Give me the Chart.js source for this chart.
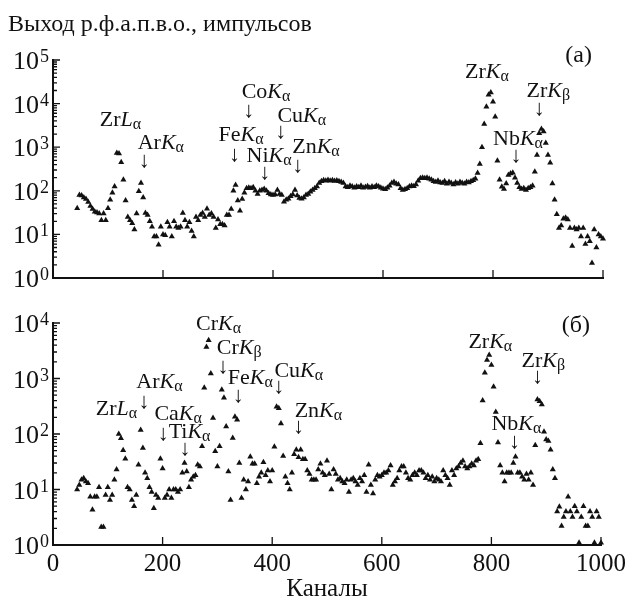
<!DOCTYPE html>
<html>
<head>
<meta charset="utf-8">
<script src="https://cdn.jsdelivr.net/npm/chart.js@4.4.1/dist/chart.umd.min.js"></script>
<style>
  html, body { margin: 0; padding: 0; background: #fff; }
  #wrap { position: relative; width: 630px; height: 602px; }
  canvas { position: absolute; left: 0; }
  #top { top: 0; }
  #bottom { top: 300px; }
</style>
</head>
<body>
<div id="wrap">
  <canvas id="top" width="630" height="300"></canvas>
  <canvas id="bottom" width="630" height="302"></canvas>
</div>
<script>
// channel numbers (x), shared by both spectra
const channels = [
   44,  48,  52,  56,  60,  64,  68,  72,  76,  80,
   84,  88,  92,  96, 100, 104, 108, 112, 116, 120,
  124, 128, 132, 136, 140, 144, 148, 152, 156, 160,
  164, 168, 172, 176, 180, 184, 188, 192, 196, 200,
  204, 208, 212, 216, 220, 224, 228, 232, 236, 240,
  244, 248, 252, 256, 260, 264, 268, 272, 276, 280,
  284, 288, 292, 296, 300, 304, 308, 312, 316, 320,
  324, 328, 332, 336, 340, 344, 348, 352, 356, 360,
  364, 368, 372, 376, 380, 384, 388, 392, 396, 400,
  404, 408, 412, 416, 420, 424, 428, 432, 436, 440,
  444, 448, 452, 456, 460, 464, 468, 472, 476, 480,
  484, 488, 492, 496, 500, 504, 508, 512, 516, 520,
  524, 528, 532, 536, 540, 544, 548, 552, 556, 560,
  564, 568, 572, 576, 580, 584, 588, 592, 596, 600,
  604, 608, 612, 616, 620, 624, 628, 632, 636, 640,
  644, 648, 652, 656, 660, 664, 668, 672, 676, 680,
  684, 688, 692, 696, 700, 704, 708, 712, 716, 720,
  724, 728, 732, 736, 740, 744, 748, 752, 756, 760,
  764, 768, 772, 776, 780, 784, 788, 792, 796, 800,
  804, 808, 812, 816, 820, 824, 828, 832, 836, 840,
  844, 848, 852, 856, 860, 864, 868, 872, 876, 880,
  884, 888, 892, 896, 900, 904, 908, 912, 916, 920,
  924, 928, 932, 936, 940, 944, 948, 952, 956, 960,
  964, 968, 972, 976, 980, 984, 988, 992, 996, 1000
];

// panel (а)
const countsA = [
  40, 80, 78, 70, 65, 55, 45, 38, 33, 32,
  30, 21, 30, 21, 40, 62, 90, 125, 740, 720,
  450, 180, 60, 25, 21, 18, 13, 30, 98, 150,
  70, 31, 28, 20, 15, 9, 9, 5.8, 15, 10,
  9.6, 19, 15, 9, 20, 15, 14, 15, 31, 21,
  15, 19, 12, 9, 25, 21, 28, 31, 25, 39,
  28, 30, 25, 14, 22, 17, 17, 16, 28, 28,
  38, 100, 135, 60, 35, 65, 90, 115, 118, 115,
  120, 100, 85, 100, 105, 110, 100, 88, 82, 80,
  82, 105, 85, 80, 56, 62, 66, 75, 82, 105,
  78, 68, 66, 70, 80, 85, 95, 105, 115, 125,
  150, 165, 175, 170, 178, 170, 175, 168, 172, 165,
  160, 150, 125, 120, 130, 125, 118, 125, 120, 130,
  118, 122, 128, 118, 125, 120, 130, 125, 118, 112,
  108, 118, 130, 150, 160, 145, 140, 115, 105, 108,
  115, 125, 130, 128, 140, 170, 195, 200, 195, 200,
  190, 180, 165, 160, 170, 155, 150, 165, 145, 160,
  150, 140, 155, 145, 160, 150, 145, 160, 155, 165,
  175, 190, 255, 410, 1000, 3400, 8500, 16000, 18000, 11000,
  5000, 490, 180, 124, 110, 148, 230, 250, 260, 200,
  150, 120, 110, 115, 105, 115, 120, 130, 275, 660,
  2100, 2600, 2300, 1250, 660, 440, 148, 62, 29, 14,
  16, 23, 24, 22, 14, 5.4, 14, 13, 14, 9,
  14, 6, 9, 7, 2.2, 13, 5, 10, 9, 8
];

// panel (б)
const countsB = [
  10, 12, 15, 16, 14, 13, 7.4, 4.3, 7.4, 7.4,
  11, 2.1, 2.1, 8, 11, 6.5, 8, 15, 23, 100,
  84, 51, 36, 11, 10, 6.5, 5, 8, 28, 118,
  56, 20, 16, 11, 9, 4.6, 8, 7, 36, 24,
  7, 8, 10, 7, 10, 10, 9, 10, 20, 30,
  21, 11, 15, 17, 18, 28, 26, 60, 680, 3700,
  4900, 1230, 195, 49, 26, 60, 630, 450, 137, 21,
  6.5, 85, 205, 180, 30, 7, 15, 10, 14, 39,
  29, 29, 13, 17, 20, 31, 18, 22, 14, 22,
  59, 310, 290, 155, 40, 17, 13, 10, 20, 43,
  52, 38, 52, 35, 35, 22, 19, 15, 15, 15,
  23, 29, 20, 18, 33, 19, 10, 23, 19, 15,
  16, 14, 13, 15, 9, 15, 16, 14, 12, 16,
  14, 18, 9, 28, 12, 8.5, 15, 18, 17, 18,
  20, 20, 22, 27, 12, 14, 16, 22, 26, 26,
  20, 16, 15, 18, 20, 18, 22, 22, 20, 16,
  18, 15, 17, 14, 16, 15, 14, 22, 18, 16,
  12, 22, 18, 24, 26, 30, 33, 26, 24, 26,
  29, 27, 33, 35, 68, 400, 1270, 2150, 2650, 1750,
  710, 250, 70, 27, 20, 14, 20, 20, 20, 30,
  39, 20, 20, 17, 15, 19, 15, 20, 12, 63,
  420, 390, 340, 110, 80, 75, 52, 23, 16, 4,
  4.9, 2.2, 3.2, 4, 7.4, 4, 3.2, 5, 4, 1.1,
  3.2, 5, 2.2, 2.2, 4, 3.2, 1.1, 4, 3.2, 1.1
];

const xTicks = [0, 200, 400, 600, 800, 1000];

// line labels: element, series letter, subscript, left edge (channel), baseline (counts)
const labelsA = [
  {el: 'Zr', line: 'L', sub: 'α', ch: 85, v: 3100},
  {el: 'Ar', line: 'K', sub: 'α', ch: 154, v: 900},
  {el: 'Co', line: 'K', sub: 'α', ch: 343, v: 13200},
  {el: 'Cu', line: 'K', sub: 'α', ch: 408, v: 3800},
  {el: 'Fe', line: 'K', sub: 'α', ch: 301, v: 1410},
  {el: 'Ni', line: 'K', sub: 'α', ch: 352, v: 457},
  {el: 'Zn', line: 'K', sub: 'α', ch: 435, v: 725},
  {el: 'Zr', line: 'K', sub: 'α', ch: 749, v: 38000},
  {el: 'Nb', line: 'K', sub: 'α', ch: 800, v: 1120},
  {el: 'Zr', line: 'K', sub: 'β', ch: 861, v: 14500}
];
const arrowsA = [
  {ch: 166, v: 355}, {ch: 356, v: 4900}, {ch: 414, v: 1620}, {ch: 330, v: 480},
  {ch: 385, v: 186}, {ch: 445, v: 270}, {ch: 842, v: 457}, {ch: 884, v: 5500}
];

const labelsB = [
  {el: 'Cr', line: 'K', sub: 'α', ch: 261, v: 7400},
  {el: 'Cr', line: 'K', sub: 'β', ch: 299, v: 2750},
  {el: 'Fe', line: 'K', sub: 'α', ch: 319, v: 795},
  {el: 'Cu', line: 'K', sub: 'α', ch: 404, v: 1070},
  {el: 'Ar', line: 'K', sub: 'α', ch: 152, v: 675},
  {el: 'Zr', line: 'L', sub: 'α', ch: 78, v: 220},
  {el: 'Ca', line: 'K', sub: 'α', ch: 185, v: 178},
  {el: 'Ti', line: 'K', sub: 'α', ch: 211, v: 85},
  {el: 'Zn', line: 'K', sub: 'α', ch: 441, v: 203},
  {el: 'Zr', line: 'K', sub: 'α', ch: 758, v: 3550},
  {el: 'Zr', line: 'K', sub: 'β', ch: 855, v: 1630},
  {el: 'Nb', line: 'K', sub: 'α', ch: 800, v: 118}
];
const arrowsB = [
  {ch: 310, v: 1260}, {ch: 338, v: 380}, {ch: 412, v: 550}, {ch: 166, v: 295},
  {ch: 201, v: 78}, {ch: 241, v: 42}, {ch: 448, v: 105}, {ch: 884, v: 830},
  {ch: 842, v: 56}
];

const FONT = '"Liberation Serif", "Times New Roman", serif';
const INK = '#111';
Chart.defaults.font.family = FONT;
Chart.defaults.color = INK;

function drawLabel(ctx, lab, x, y) {
  let cx = x;
  const parts = [[lab.el, false, false], [lab.line, true, false], [lab.sub, false, true]];
  for (const [t, it, sub] of parts) {
    ctx.font = (it ? 'italic ' : '') + (sub ? 16 : 22) + 'px ' + FONT;
    ctx.fillText(t, cx, sub ? y + 3 : y);
    cx += ctx.measureText(t).width;
  }
}

const panelDecor = {
  id: 'panelDecor',
  afterDraw(chart, args, opts) {
    const ctx = chart.ctx;
    const xs = chart.scales.x, ys = chart.scales.y;
    const area = chart.chartArea;
    ctx.save();
    ctx.fillStyle = INK;
    ctx.strokeStyle = INK;

    // inward ticks on the y axis
    ctx.lineWidth = 1.3;
    ctx.beginPath();
    for (let e = 0; e <= opts.decades; e++) {
      for (let m = 1; m < 10; m++) {
        if (e === opts.decades && m > 1) break;
        const y = ys.getPixelForValue(m * Math.pow(10, e));
        ctx.moveTo(area.left, y);
        ctx.lineTo(area.left + (m === 1 ? 7 : 4), y);
      }
    }
    // inward ticks on the x axis
    xTicks.slice(1).forEach(v => {
      const x = xs.getPixelForValue(v);
      ctx.moveTo(x, area.bottom);
      ctx.lineTo(x, area.bottom - 8);
    });
    ctx.stroke();

    // decade labels 10^n
    ctx.textBaseline = 'alphabetic';
    for (let e = 0; e <= opts.decades; e++) {
      const y = ys.getPixelForValue(Math.pow(10, e));
      ctx.font = '26px ' + FONT;
      ctx.textAlign = 'right';
      ctx.fillText('10', area.left - 14, y + 9);
      ctx.font = '18px ' + FONT;
      ctx.textAlign = 'left';
      ctx.fillText(String(e), area.left - 13, y + 2);
    }

    // line labels and arrows
    ctx.textAlign = 'left';
    opts.labels.forEach(l => drawLabel(ctx, l, xs.getPixelForValue(l.ch), ys.getPixelForValue(l.v)));
    ctx.textAlign = 'center';
    ctx.font = '22px ' + FONT;
    opts.arrows.forEach(a => ctx.fillText('↓', xs.getPixelForValue(a.ch), ys.getPixelForValue(a.v)));

    // panel letter
    ctx.textAlign = 'right';
    ctx.font = '24px ' + FONT;
    ctx.fillText(opts.panel.text, xs.getPixelForValue(opts.panel.ch), ys.getPixelForValue(opts.panel.v));

    if (opts.title) {
      ctx.textAlign = 'left';
      ctx.font = '24px ' + FONT;
      ctx.fillText(opts.title, 8, 31);
    }
    ctx.restore();
  }
};

function makeChart(id, counts, yMax, decades, padTop, xHeight, showX, extra) {
  const xScale = {
    type: 'linear', min: 0, max: 1000,
    afterBuildTicks: s => { s.ticks = xTicks.map(v => ({value: v})); },
    ticks: {
      display: showX, font: {size: 25}, color: INK, padding: 4, maxRotation: 0, autoSkip: false,
      callback: v => String(v)
    },
    grid: {display: true, drawOnChartArea: false, drawTicks: false},
    border: {display: true, color: INK, width: 2},
    title: {display: showX, text: 'Каналы', font: {size: 25, lineHeight: 1.0}, color: INK, padding: 0},
    afterFit: s => { s.height = xHeight; }
  };
  return new Chart(document.getElementById(id), {
    type: 'scatter',
    data: {
      datasets: [{
        data: channels.map((c, i) => ({x: c, y: counts[i]})),
        pointStyle: 'triangle',
        radius: 3.5,
        backgroundColor: INK,
        borderWidth: 0,
        clip: false
      }]
    },
    options: {
      responsive: false,
      animation: false,
      events: [],
      layout: {padding: {top: padTop, right: 27, bottom: 0, left: 0}},
      scales: {
        x: xScale,
        y: {
          type: 'logarithmic', min: 1, max: yMax,
          ticks: {display: false},
          grid: {display: true, drawOnChartArea: false, drawTicks: false},
          border: {display: true, color: INK, width: 2},
          afterFit: s => { s.width = 53; }
        }
      },
      plugins: {
        legend: {display: false},
        tooltip: {enabled: false},
        panelDecor: Object.assign({decades: decades}, extra)
      }
    },
    plugins: [panelDecor]
  });
}

makeChart('top', countsA, 1e5, 5, 60, 22, false, {
  labels: labelsA, arrows: arrowsA,
  panel: {text: '(а)', ch: 980, v: 90000},
  title: 'Выход р.ф.а.п.в.о., импульсов'
});
makeChart('bottom', countsB, 1e4, 4, 23, 57, true, {
  labels: labelsB, arrows: arrowsB,
  panel: {text: '(б)', ch: 980, v: 6950}
});
</script>
</body>
</html>
